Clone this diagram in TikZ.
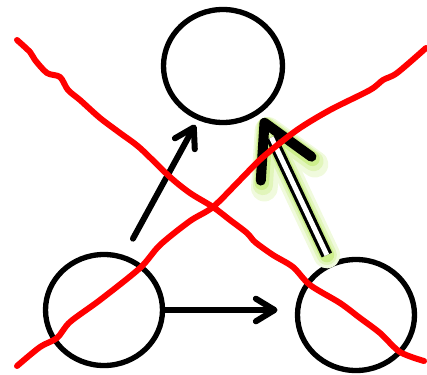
\documentclass[tikz,border=0pt]{standalone}
\usepackage{xcolor}
\usepackage{tikz}
\usetikzlibrary{arrows.meta, shapes.geometric}
\definecolor{glowgreen}{RGB}{205,238,140}

\begin{document}
\begin{tikzpicture}[x=0.75pt, y=-0.75pt,
  state/.style={draw, ellipse, line width=4pt, inner sep=0pt},
  arr/.style={line width=4.5pt, line cap=round,
    -{Straight Barb[length=14pt, width=17pt, round]}},
  dbl/.style={double, double distance=3.75pt, line width=2.4pt},
  bighead/.style={white, line width=0.2pt,
    -{Straight Barb[black, line width=7.5pt, length=38pt, width=42pt, round]}},
  glow/.style={line cap=round,
    -{Straight Barb[line width=#1, length=38pt, width=42pt, round]}},
  wobble/.style={red, line width=4.5pt, line cap=round, line join=round}]
  \useasboundingbox (0,0) rectangle (427,374);
  % ---------- states ----------
  \node[state, minimum width=89.25pt, minimum height=84.75pt] (top) at (223,66) {};
  \node[state, minimum width=87.75pt, minimum height=83.25pt] (bl) at (104,310) {};
  \node[state, minimum width=87.75pt, minimum height=83.25pt] (br) at (356,315) {};
  % ---------- glow ----------
  \draw[glow=20pt, glowgreen!30, line width=20pt, shorten <=6pt, shorten >=4pt] (br.116) -- (top.-52);
  \draw[glow=15pt, glowgreen!60, line width=15pt, shorten <=6pt, shorten >=4pt] (br.116) -- (top.-52);
  \draw[glow=11pt, glowgreen, line width=11pt, shorten <=6pt, shorten >=4pt] (br.116) -- (top.-52);
  % ---------- arrows ----------
  \draw[arr, shorten <=14pt, shorten >=4pt] (bl.70) -- (top.245);
  \draw[arr, shorten >=13pt] (bl.east) -- (bl.east -| br.west);
  \draw[dbl, shorten <=6pt, shorten >=20pt] (br.116) -- (top.-52);
  \draw[bighead, shorten <=6pt, shorten >=4pt] (br.116) -- (top.-52);
  % ---------- crossed out ----------
  \draw[wobble] plot[smooth, tension=0.5] coordinates {(17,40) (30,52) (35,60) (47,73) (60,77)
    (68,90) (80,100) (100,118) (120,133) (140,148) (170,177) (190,193) (213,207) (230,220)
    (247,233) (255,242) (273,255) (293,267) (310,285) (340,303) (360,318) (380,333)
    (400,352) (424,361)};
  \draw[wobble] plot[smooth, tension=0.5] coordinates {(17,366) (40,347) (57,338) (70,322)
    (100,300) (140,268) (160,245) (190,221) (213,207) (240,180) (263,157) (297,130)
    (330,110) (370,90) (383,80) (397,73) (426,48)};
\end{tikzpicture}
\end{document}
